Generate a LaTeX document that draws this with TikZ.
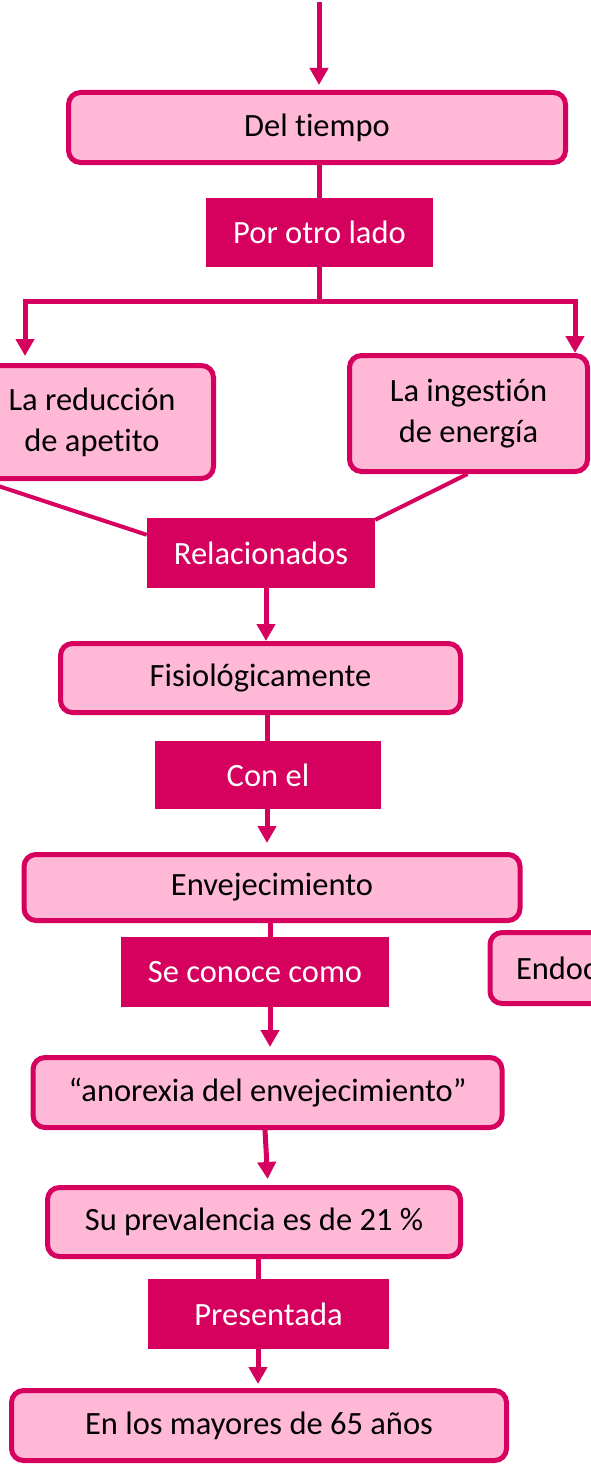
\documentclass[tikz,border=0pt]{standalone}
\usepackage{fontspec}
\setmainfont{Carlito}[Ligatures=NoCommon]
\usetikzlibrary{arrows.meta,calc}
\definecolor{dpink}{RGB}{214,0,94}
\definecolor{lpink}{RGB}{255,184,214}
\tikzset{
  lbox/.style={draw=dpink, fill=lpink, line width=5pt, rounded corners=12pt, inner sep=0pt, align=center, text=black},
  dbox/.style={fill=dpink, draw=none, inner sep=0pt, align=center, text=white},
  conn/.style={draw=dpink, line width=5pt},
  arr/.style={draw=dpink, line width=5pt, -{Triangle[width=18pt,length=17pt]}},
}
\begin{document}
\begin{tikzpicture}[x=1pt,y=-1pt,font=\fontsize{32.5}{41}\selectfont]
\useasboundingbox (0,0) rectangle (591,1469);
\clip (0,0) rectangle (591,1469);
% nodes
\node[lbox, minimum width=497pt, minimum height=70pt] (dt) at (317,127.5) {Del tiempo};
\node[dbox, minimum width=227pt, minimum height=69pt] (pol) at (319.5,232.5) {Por otro lado};
\node[lbox, minimum width=243pt, minimum height=113pt] (lb) at (92,422) {La reducción\\de apetito};
\node[lbox, minimum width=238pt, minimum height=116pt] (rb) at (468.5,413.5) {La ingestión\\de energía};
\node[dbox, minimum width=228pt, minimum height=70pt] (rel) at (261,553) {Relacionados};
\node[lbox, minimum width=400pt, minimum height=69pt] (fis) at (260.5,678) {Fisiológicamente};
\node[dbox, minimum width=226pt, minimum height=68pt] (conel) at (268,775) {Con el};
\node[lbox, minimum width=496pt, minimum height=66pt] (env) at (272,887.5) {Envejecimiento};
\node[dbox, minimum width=268pt, minimum height=70pt] (se) at (255,972) {Se conoce como};
\node[lbox, anchor=west, minimum height=71pt, text width=200pt, align=left, inner xsep=26pt] (endo) at (487.5,968) {Endoc};
\node[lbox, minimum width=469pt, minimum height=70pt] (ano) at (267.5,1092.5) {“anorexia del envejecimiento”};
\node[lbox, minimum width=413pt, minimum height=69pt] (su) at (254,1222) {Su prevalencia es de 21 \%};
\node[dbox, minimum width=241pt, minimum height=70pt] (pres) at (268.5,1314) {Presentada};
\node[lbox, minimum width=495pt, minimum height=70pt] (en) at (259,1425.5) {En los mayores de 65 años};
% coordinates
\coordinate (top) at (319,2);
\coordinate (bl) at (25,301);
\coordinate (br) at (575,301);
\coordinate (lbc) at (-20,480);
% connectors
\draw[arr, shorten >=5pt] (top) -- (top |- dt.north);
\draw[conn] (pol.north -| 319,0) -- (dt.south -| 319,0);
\draw[conn] (pol.south -| 319,0) -- (bl -| 319,0);
\draw[arr, shorten >=7pt] (bl -| 319,0) -- (bl) -- (bl |- lb.north);
\draw[arr] (bl -| 319,0) -- (br) -- (br |- rb.north);
\draw[conn, line width=4pt] (lbc) -- ([yshift=-17pt]rel.north west);
\draw[conn, line width=4pt] ([xshift=-1pt]rb.south) -- ([yshift=-2pt]rel.north east);
\draw[arr] (rel.south -| 266,0) -- (fis.north -| 266,0);
\draw[conn] (fis.south -| 267,0) -- (conel.north -| 267,0);
\draw[arr, shorten >=9pt] (conel.south -| 267,0) -- (env.north -| 267,0);
\draw[conn] (env.south -| 270,0) -- (se.north -| 270,0);
\draw[arr, shorten >=8pt] (se.south -| 270,0) -- (ano.north -| 270,0);
\draw[arr, shorten >=6pt] (ano.south -| 265,0) -- ($(su.north -| 268,0)$);
\draw[conn] (su.south -| 258,0) -- (pres.north -| 258,0);
\draw[arr, shorten >=4pt] (pres.south -| 258,0) -- (en.north -| 258,0);
\end{tikzpicture}
\end{document}
